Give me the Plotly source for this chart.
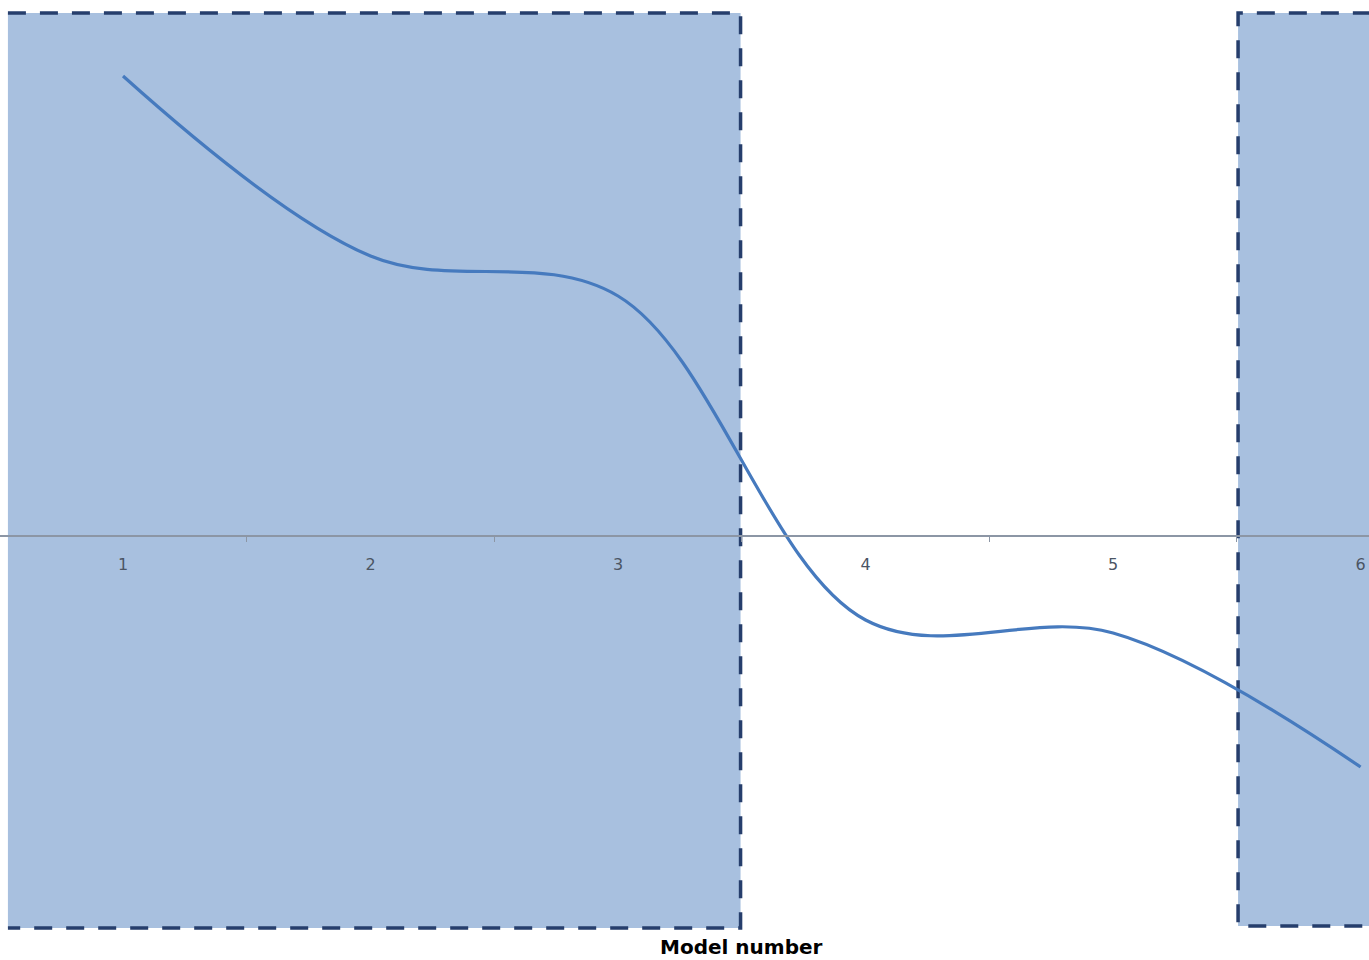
import plotly.graph_objects as go

# Series values per model
models = ["1", "2", "3", "4", "5", "6"]
values = [4.60, 2.80, 2.40, -0.84, -0.97, -2.31]

# Shaded model ranges (category index units) and their vertical extent
left_band = (-0.465, 2.495)
right_band = (4.505, 5.30)
band_top = 5.23
band_bottom = -3.92

W, H = 1369, 960
fill_col = "rgb(168,192,223)"
edge_col = "rgb(38,62,108)"
dash = "18px,14px"

fig = go.Figure()
fig.add_trace(go.Scatter(
    x=models, y=values, mode="lines",
    line=dict(color="rgb(70,122,190)", width=3.2, shape="spline", smoothing=1),
    hoverinfo="skip", showlegend=False,
))

shapes = []
# Left band: filled, dashed on top, right and bottom
shapes.append(dict(type="rect", xref="x", yref="y", x0=left_band[0], x1=left_band[1],
                   y0=band_bottom, y1=band_top, fillcolor=fill_col, line=dict(width=0),
                   layer="below"))
shapes.append(dict(type="path", xref="x", yref="y",
                   path=f"M{left_band[0]},{band_top} L{left_band[1]},{band_top} "
                        f"L{left_band[1]},{band_bottom} L{left_band[0]},{band_bottom}",
                   line=dict(color=edge_col, width=3.5, dash=dash), layer="below"))
# Right band
shapes.append(dict(type="rect", xref="x", yref="y", x0=right_band[0], x1=right_band[1],
                   y0=band_bottom + 0.02, y1=band_top, fillcolor=fill_col, line=dict(width=0),
                   layer="below"))
shapes.append(dict(type="path", xref="x", yref="y",
                   path=f"M{right_band[1]},{band_top} L{right_band[0]},{band_top} "
                        f"L{right_band[0]},{band_bottom + 0.02} L{right_band[1]},{band_bottom + 0.02}",
                   line=dict(color=edge_col, width=3.5, dash=dash), layer="below"))

fig.update_layout(
    width=W, height=H,
    margin=dict(l=0, r=0, t=0, b=0),
    paper_bgcolor="white", plot_bgcolor="white",
    shapes=shapes,
    xaxis=dict(
        type="category", range=[-0.497, 5.034],
        anchor="free", position=1 - 536 / H,
        showline=True, linecolor="rgb(140,150,165)", linewidth=1.5,
        ticks="outside", tickson="boundaries", ticklen=5, tickcolor="rgb(140,150,165)",
        showgrid=False, zeroline=False,
        tickfont=dict(family="DejaVu Sans", size=16, color="rgb(75,85,100)"),
        ticklabelstandoff=14,
    ),
    yaxis=dict(range=[-4.24, 5.36], visible=False, showgrid=False, zeroline=False),
    annotations=[dict(
        text="<b>Model number</b>", xref="paper", yref="paper",
        x=741 / W, y=1 - 947 / H, showarrow=False,
        font=dict(family="DejaVu Sans", size=20, color="black"),
        xanchor="center", yanchor="middle",
    )],
)

fig.write_html("out.html")
